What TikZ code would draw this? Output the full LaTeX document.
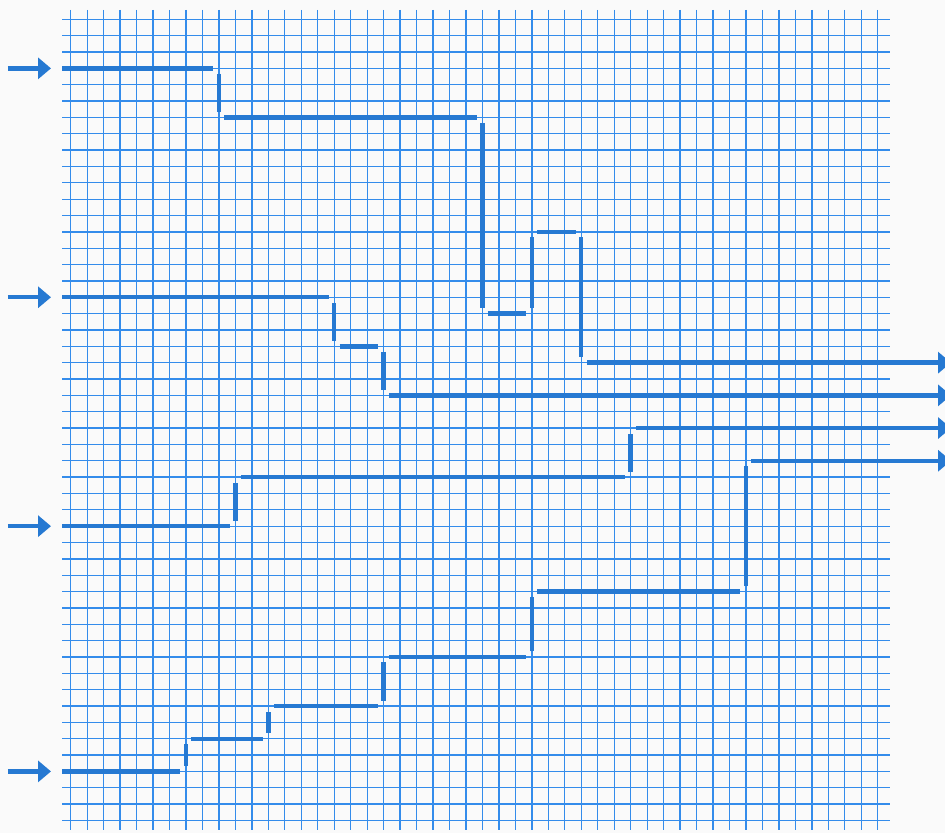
\documentclass[tikz,border=0pt]{standalone}
\usetikzlibrary{arrows.meta}
\definecolor{gridblue}{RGB}{52,140,235}
\definecolor{wireblue}{RGB}{38,121,210}
\definecolor{paper}{RGB}{250,250,250}
\begin{document}
\begin{tikzpicture}[x=8.235pt,y=-8.175pt,
  gridline/.style={draw=gridblue,line width=0.65pt},
  wire/.style={draw=wireblue,line width=2.2pt},
  gapend/.style={shorten >=2.75pt},
  gapstart/.style={shorten <=2.75pt},
  gapboth/.style={shorten >=2.75pt,shorten <=2.75pt},
  tip/.style={-{Triangle[length=6.5pt,width=10.5pt]}}]
% page frame (945 x 833 px)
\fill[paper] (-4.2926,-1.1804) rectangle (53.085,49.768);
\useasboundingbox (-4.2926,-1.1804) rectangle (53.085,49.768);
% grid
\foreach \i in {0,...,49} {
  \draw[gridline] (\i,-0.57) -- (\i,49.58);
  \draw[gridline] (-0.528,\i) -- (49.74,\i);
}
% input arrows
\foreach \r/\n in {3/1,17/2,31/3,46/4} {
  \coordinate (in\n s) at (-3.807,\r);
  \coordinate (in\n e) at (-1.196,\r);
  \draw[wire,tip] (in\n s) -- (in\n e);
}
% path 1
\coordinate (a0) at (-0.528,3);
\coordinate (a1) at (9,3);
\coordinate (a2) at (9,6);
\coordinate (a3) at (25,6);
\coordinate (a4) at (25,18);
\coordinate (a5) at (28,18);
\coordinate (a6) at (28,13);
\coordinate (a7) at (31,13);
\coordinate (a8) at (31,21);
\coordinate (a9) at (53.45,21);
\draw[wire,gapend] (a0) -- (a1);
\draw[wire,gapboth] (a1) -- (a2);
\draw[wire,gapboth] (a2) -- (a3);
\draw[wire,gapboth] (a3) -- (a4);
\draw[wire,gapboth] (a4) -- (a5);
\draw[wire,gapboth] (a5) -- (a6);
\draw[wire,gapboth] (a6) -- (a7);
\draw[wire,gapboth] (a7) -- (a8);
\draw[wire,gapstart,tip] (a8) -- (a9);
% path 2
\coordinate (b0) at (-0.528,17);
\coordinate (b1) at (16,17);
\coordinate (b2) at (16,20);
\coordinate (b3) at (19,20);
\coordinate (b4) at (19,23);
\coordinate (b5) at (53.45,23);
\draw[wire,gapend] (b0) -- (b1);
\draw[wire,gapboth] (b1) -- (b2);
\draw[wire,gapboth] (b2) -- (b3);
\draw[wire,gapboth] (b3) -- (b4);
\draw[wire,gapstart,tip] (b4) -- (b5);
% path 3
\coordinate (c0) at (-0.528,31);
\coordinate (c1) at (10,31);
\coordinate (c2) at (10,28);
\coordinate (c3) at (34,28);
\coordinate (c4) at (34,25);
\coordinate (c5) at (53.45,25);
\draw[wire,gapend] (c0) -- (c1);
\draw[wire,gapboth] (c1) -- (c2);
\draw[wire,gapboth] (c2) -- (c3);
\draw[wire,gapboth] (c3) -- (c4);
\draw[wire,gapstart,tip] (c4) -- (c5);
% path 4
\coordinate (d0) at (-0.528,46);
\coordinate (d1) at (7,46);
\coordinate (d2) at (7,44);
\coordinate (d3) at (12,44);
\coordinate (d4) at (12,42);
\coordinate (d5) at (19,42);
\coordinate (d6) at (19,39);
\coordinate (d7) at (28,39);
\coordinate (d8) at (28,35);
\coordinate (d9) at (41,35);
\coordinate (d10) at (41,27);
\coordinate (d11) at (53.45,27);
\draw[wire,gapend] (d0) -- (d1);
\draw[wire,gapboth] (d1) -- (d2);
\draw[wire,gapboth] (d2) -- (d3);
\draw[wire,gapboth] (d3) -- (d4);
\draw[wire,gapboth] (d4) -- (d5);
\draw[wire,gapboth] (d5) -- (d6);
\draw[wire,gapboth] (d6) -- (d7);
\draw[wire,gapboth] (d7) -- (d8);
\draw[wire,gapboth] (d8) -- (d9);
\draw[wire,gapboth] (d9) -- (d10);
\draw[wire,gapstart,tip] (d10) -- (d11);
\end{tikzpicture}
\end{document}
